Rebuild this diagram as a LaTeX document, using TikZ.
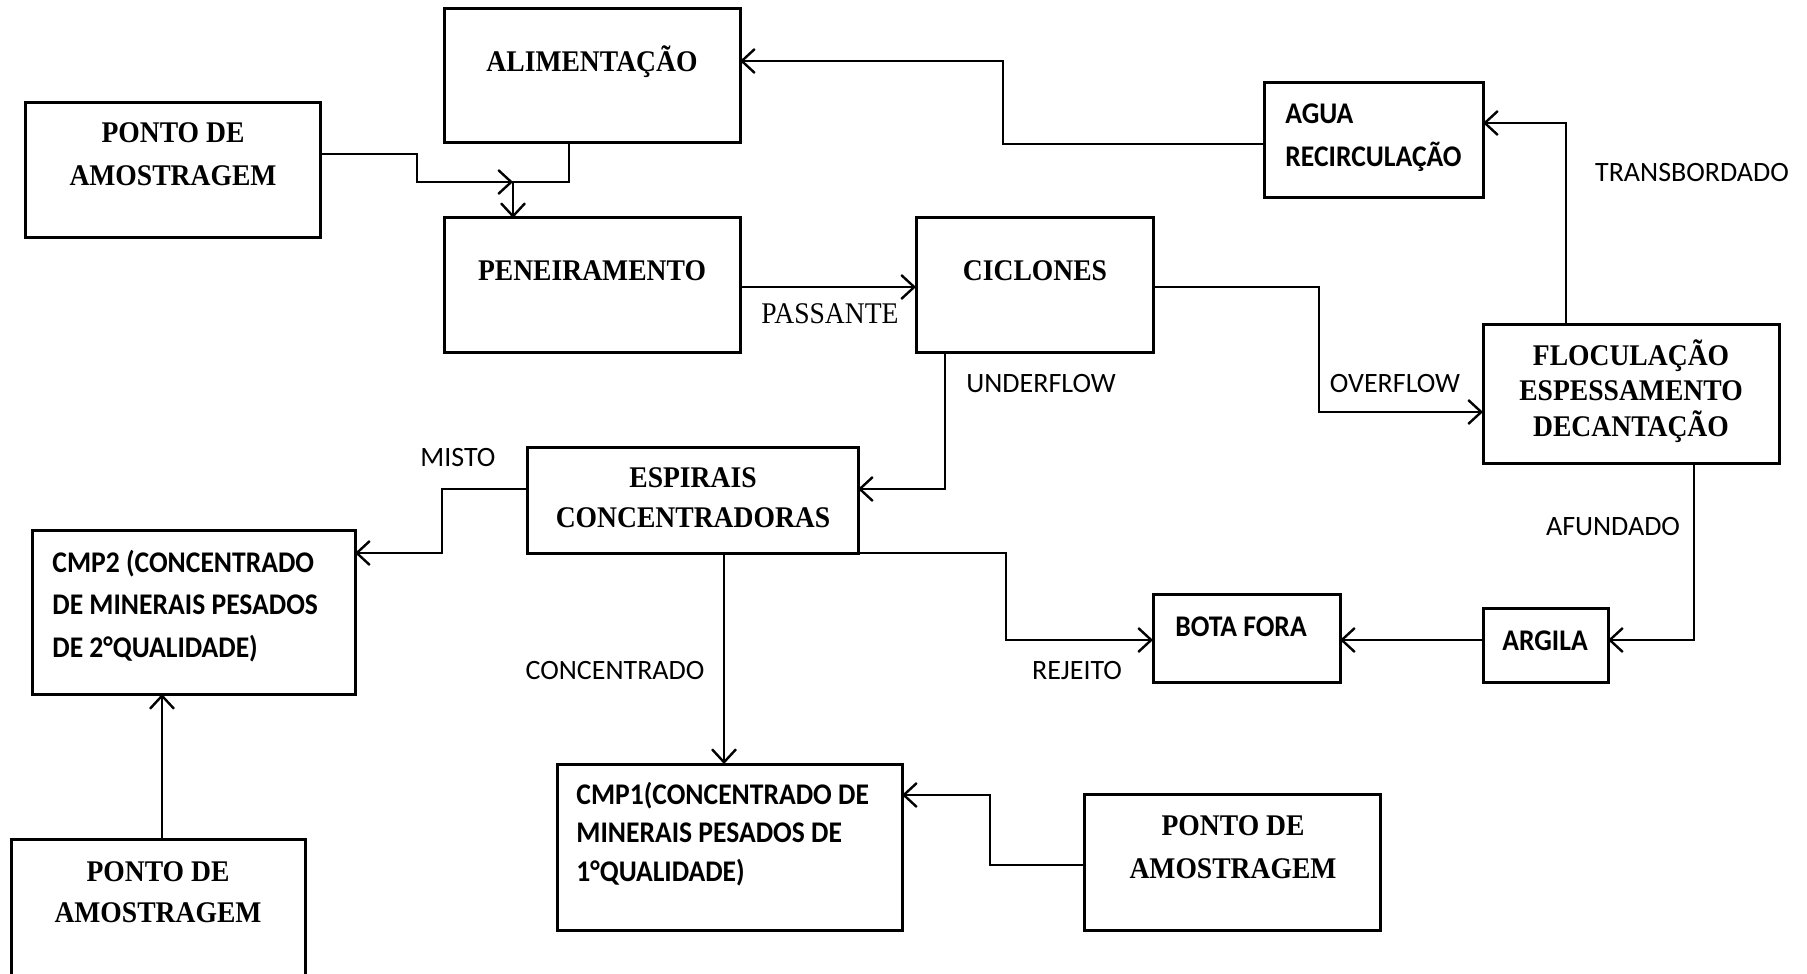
\documentclass[tikz,border=0pt]{standalone}
\usepackage{fontspec}
\setmainfont{Liberation Serif}
\newfontfamily\tnrfont[FakeStretch=0.92]{Liberation Serif}
\newfontfamily\calbfont[FakeStretch=0.92]{Carlito}
\newfontfamily\callfont{Carlito}
\usetikzlibrary{arrows.meta,fit}
\begin{document}
\begin{tikzpicture}[x=0.5pt,y=-0.5pt,
  box/.style={draw,line width=1.5pt,inner sep=0pt,outer sep=0pt},
  sb/.style={font=\tnrfont\bfseries\fontsize{15}{18}\selectfont,anchor=base,inner sep=0pt},
  cb/.style={font=\calbfont\bfseries\fontsize{15}{18}\selectfont,anchor=base,inner sep=0pt},
  cbl/.style={cb,anchor=base west},
  lab/.style={font=\callfont\fontsize{14}{17}\selectfont,anchor=base,inner sep=0pt},
  slab/.style={font=\tnrfont\fontsize{15}{18}\selectfont,anchor=base,inner sep=0pt},
  arr/.style={line width=1.2pt,-{Straight Barb[length=6.5pt,width=12pt,line width=1.2pt]}},
  ln/.style={line width=1.2pt}]
\clip (0,0) rectangle (1807,973);
\fill[white] (0,0) rectangle (1807,973);
% boxes
\node[box,fit={(444,9) (740,143)}] (alim) {};
\node[box,fit={(25,103) (320,237)}] (ponto1) {};
\node[box,fit={(444,218) (740,352)}] (penei) {};
\node[box,fit={(916,218) (1153,352)}] (cicl) {};
\node[box,fit={(1264,83) (1483,198)}] (agua) {};
\node[box,fit={(1483,324) (1779,463)}] (floc) {};
\node[box,fit={(527,447) (858,553)}] (espi) {};
\node[box,fit={(32,530) (355,694)}] (cmp2) {};
\node[box,fit={(1153,594) (1340,682)}] (bota) {};
\node[box,fit={(1483,608) (1608,682)}] (argila) {};
\node[box,fit={(557,764) (902,930)}] (cmp1) {};
\node[box,fit={(1084,794) (1380,930)}] (ponto2) {};
\node[box,fit={(11,839) (305,990)}] (ponto3) {};
% box texts
\node[sb] (alimT) at (592,72) {ALIMENTAÇÃO};
\node[sb] (p1a) at (173,143) {PONTO DE};
\node[sb] (p1b) at (173,186) {AMOSTRAGEM};
\node[sb] (peneT) at (592,280) {PENEIRAMENTO};
\node[sb] (ciclT) at (1035,280) {CICLONES};
\node[sb] (floa) at (1631,365) {FLOCULAÇÃO};
\node[sb] (flob) at (1631,400) {ESPESSAMENTO};
\node[sb] (floc3) at (1631,436) {DECANTAÇÃO};
\node[sb] (espa) at (693,487) {ESPIRAIS};
\node[sb] (espb) at (693,527) {CONCENTRADORAS};
\node[sb] (p2a) at (1233,835) {PONTO DE};
\node[sb] (p2b) at (1233,878) {AMOSTRAGEM};
\node[sb] (p3a) at (158,881) {PONTO DE};
\node[sb] (p3b) at (158,922) {AMOSTRAGEM};
\node[cbl] (aguaa) at (1285,124) {AGUA};
\node[cbl] (aguab) at (1285,167) {RECIRCULAÇÃO};
\node[cbl] (c2a) at (52,572) {CMP2 (CONCENTRADO};
\node[cbl] (c2b) at (52,614) {DE MINERAIS PESADOS};
\node[cbl] (c2c) at (52,657) {DE 2°QUALIDADE)};
\node[cbl] (c1a) at (576,804) {CMP1(CONCENTRADO DE};
\node[cbl] (c1b) at (576,842) {MINERAIS PESADOS DE};
\node[cbl] (c1c) at (576,881) {1°QUALIDADE)};
\node[cb] (botaT) at (1241,636) {BOTA FORA};
\node[cb] (argT) at (1545,650) {ARGILA};
% labels
\node[slab] (passante) at (830,323) {PASSANTE};
\node[lab] (transb) at (1692,182) {TRANSBORDADO};
\node[lab] (overf) at (1395,392) {OVERFLOW};
\node[lab] (underf) at (1041,392) {UNDERFLOW};
\node[lab] (afund) at (1613,535) {AFUNDADO};
\node[lab] (rejeito) at (1077,679) {REJEITO};
\node[lab] (misto) at (458,466) {MISTO};
\node[lab] (concen) at (615,679) {CONCENTRADO};
% connectors
\coordinate (junc) at (513,182);
\draw[arr] (ponto1.east |- 0,154) -- (417,154) |- (junc);
\draw[arr] (alim.south -| 569,0) |- (junc) -- (junc |- penei.north);
\draw[arr] (penei.east |- 0,287) -- (cicl.west |- 0,287);
\draw[arr] (cicl.east |- 0,287) -- (1319,287) |- (floc.west |- 0,412);
\draw[arr] (cicl.south -| 945,0) |- (espi.east |- 0,489);
\draw[arr] (floc.north -| 1566,0) |- (agua.east |- 0,123);
\draw[arr] (agua.west |- 0,144) -- (1003,144) |- (alim.east |- 0,61);
\draw[arr] (floc.south -| 1694,0) |- (argila.east |- 0,640);
\draw[arr] (argila.west |- 0,640) -- (bota.east |- 0,640);
\draw[arr] (espi.south east) -- (1006,553) |- (bota.west |- 0,640);
\draw[arr] (espi.west |- 0,489) -- (442,489) |- (cmp2.east |- 0,553);
\draw[arr] (espi.south -| 724,0) -- (cmp1.north -| 724,0);
\draw[arr] (ponto2.west |- 0,865) -- (990,865) |- (cmp1.east |- 0,795);
\draw[arr] (ponto3.north -| 162,0) -- (cmp2.south -| 162,0);
\end{tikzpicture}
\end{document}
